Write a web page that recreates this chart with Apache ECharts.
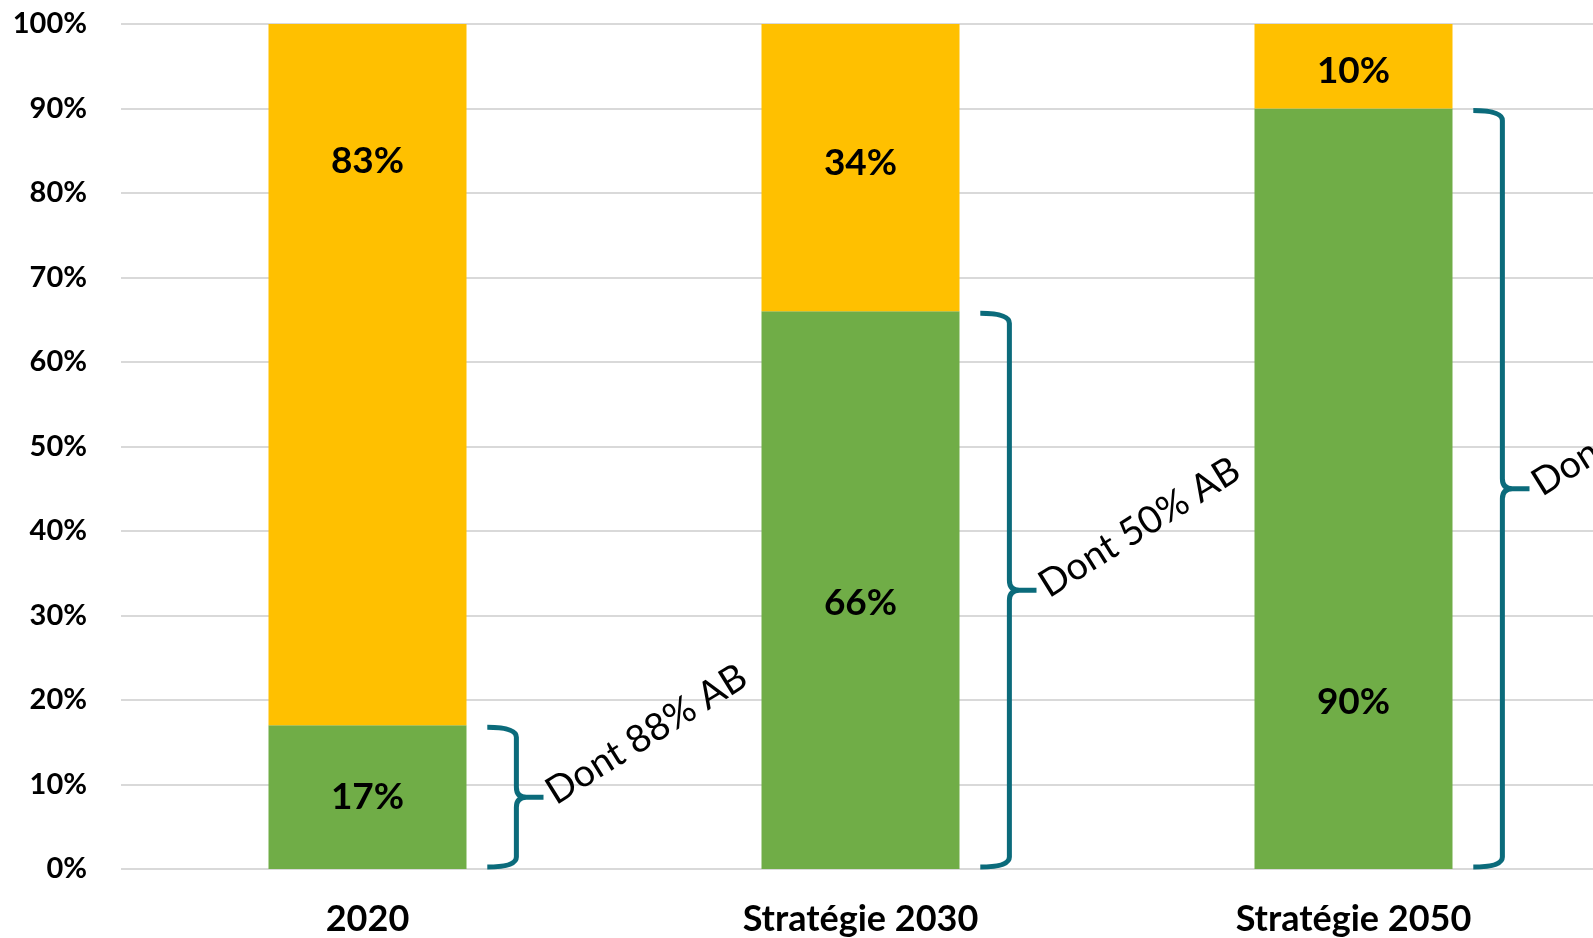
<!DOCTYPE html>
<html>
<head>
<meta charset="utf-8">
<script src="https://cdn.jsdelivr.net/npm/echarts@6/dist/echarts.min.js"></script>
<style>
  html, body { margin: 0; padding: 0; background: #fff; overflow: hidden; }
  #main { width: 1600px; height: 938px; }
</style>
</head>
<body>
<div id="main"></div>
<script>
// donnees
var categories = ['2020', 'Stratégie 2030', 'Stratégie 2050'];
var greenValues = [17, 66, 90];
var yellowValues = [83, 34, 10];
var braceTops = [17, 66, 90];
var braceTexts = ['Dont 88% AB', 'Dont 50% AB', 'Dont 100% AB'];

// placement des etiquettes (px depuis le haut du segment, null = centre)
var greenLabelY = [null, 292, 594];
var yellowLabelY = [137, 139, 47];

var fontName = 'Lato';

function labelFor(y) {
  if (y === null) return { position: 'inside' };
  return { position: ['50%', y], align: 'center', verticalAlign: 'middle' };
}

var chart = echarts.init(document.getElementById('main'));

var braceData = braceTops.map(function (v, i) { return [i, v, braceTexts[i]]; });

var option = {
  animation: false,
  backgroundColor: '#ffffff',
  grid: { left: 121, right: 0, top: 24, bottom: 69 },
  xAxis: {
    type: 'category',
    data: categories,
    axisLine: { show: false },
    axisTick: { show: false },
    axisLabel: {
      margin: 32,
      fontFamily: fontName,
      fontWeight: 'bold',
      fontSize: 36,
      color: '#000'
    }
  },
  yAxis: {
    type: 'value',
    min: 0,
    max: 100,
    interval: 10,
    axisLine: { show: false },
    axisTick: { show: false },
    splitLine: { lineStyle: { color: '#d9d9d9', width: 2 } },
    axisLabel: {
      margin: 34,
      formatter: '{value}%',
      fontFamily: fontName,
      fontWeight: 'bold',
      fontSize: 29,
      color: '#000'
    }
  },
  series: [
    {
      name: 'vert',
      type: 'bar',
      stack: 'total',
      barWidth: 198,
      itemStyle: { color: '#70ad47' },
      label: {
        show: true,
        formatter: '{c}%',
        fontFamily: fontName,
        fontWeight: 'bold',
        fontSize: 37,
        color: '#000'
      },
      data: greenValues.map(function (v, i) {
        return { value: v, label: labelFor(greenLabelY[i]) };
      })
    },
    {
      name: 'jaune',
      type: 'bar',
      stack: 'total',
      barWidth: 198,
      itemStyle: { color: '#ffc000' },
      label: {
        show: true,
        formatter: '{c}%',
        fontFamily: fontName,
        fontWeight: 'bold',
        fontSize: 37,
        color: '#000'
      },
      data: yellowValues.map(function (v, i) {
        return { value: v, label: labelFor(yellowLabelY[i]) };
      })
    },
    {
      // accolades + texte
      type: 'custom',
      silent: true,
      z: 10,
      data: braceData,
      renderItem: function (params, api) {
        var base = api.coord([api.value(0), 0]);
        var top = api.coord([api.value(0), api.value(1)]);
        var bw = api.size([1, 0])[0];
        var xc = base[0];
        var xt = xc + bw * 0.243;
        var xv = xc + bw * 0.302;
        var xs = xc + bw * 0.357;
        var yt = top[1] + 2;
        var yb = base[1] - 2;
        var ym = (yt + yb) / 2;
        var r = 10;
        var d = 'M' + xt + ',' + yt +
          ' Q' + xv + ',' + yt + ' ' + xv + ',' + (yt + r) +
          ' L' + xv + ',' + (ym - r) +
          ' Q' + xv + ',' + ym + ' ' + (xv + r) + ',' + ym +
          ' L' + xs + ',' + ym +
          ' M' + (xv + r) + ',' + ym +
          ' Q' + xv + ',' + ym + ' ' + xv + ',' + (ym + r) +
          ' L' + xv + ',' + (yb - r) +
          ' Q' + xv + ',' + yb + ' ' + xt + ',' + yb;
        return {
          type: 'group',
          children: [
            {
              type: 'path',
              shape: { pathData: d },
              style: { stroke: '#0b6b7b', lineWidth: 5, fill: null }
            },
            {
              type: 'text',
              x: xs + 16,
              y: ym + 14,
              rotation: 32 * Math.PI / 180,
              style: {
                text: api.value(2),
                fontFamily: fontName,
                fontSize: 38,
                fill: '#000',
                align: 'left',
                verticalAlign: 'bottom'
              }
            }
          ]
        };
      }
    }
  ]
};

chart.setOption(option);
</script>
</body>
</html>
